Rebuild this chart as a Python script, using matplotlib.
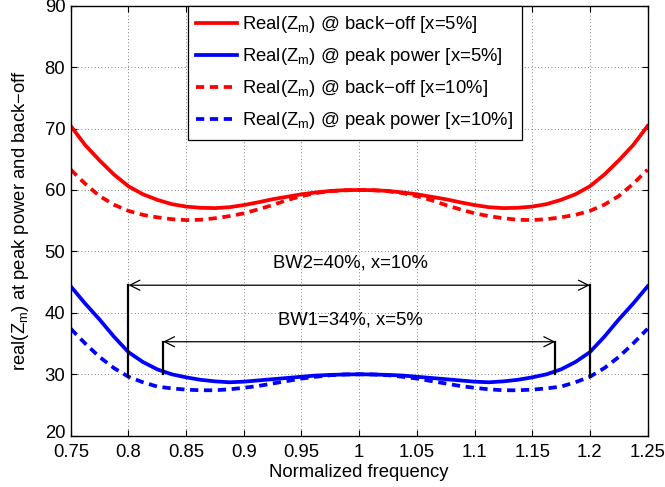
import numpy as np
import matplotlib
matplotlib.use("Agg")
import matplotlib.pyplot as plt
import matplotlib.transforms as mtransforms

plt.rcParams['font.family'] = ['Liberation Sans', 'DejaVu Sans']
plt.rcParams['mathtext.default'] = 'regular'

# Normalized frequency grid (0.75 .. 1.25, step 0.0125)
freq = [0.75, 0.7625, 0.775, 0.7875, 0.80, 0.8125, 0.825, 0.8375, 0.85, 0.8625,
        0.875, 0.8875, 0.90, 0.9125, 0.925, 0.9375, 0.95, 0.9625, 0.975, 0.9875,
        1.00, 1.0125, 1.025, 1.0375, 1.05, 1.0625, 1.075, 1.0875, 1.10, 1.1125,
        1.125, 1.1375, 1.15, 1.1625, 1.175, 1.1875, 1.20, 1.2125, 1.225, 1.2375,
        1.25]

# Real(Zm) at back-off, x = 5 %
backoff_x5 = [70.4, 67.3, 64.8, 62.5, 60.6, 59.3, 58.4, 57.7, 57.3, 57.1,
              57.05, 57.2, 57.55, 58.0, 58.5, 58.9, 59.3, 59.6, 59.85, 59.97,
              60.0, 59.97, 59.85, 59.6, 59.3, 58.9, 58.5, 58.0, 57.55, 57.2,
              57.05, 57.1, 57.3, 57.7, 58.4, 59.3, 60.6, 62.5, 64.8, 67.3,
              70.4]
# Real(Zm) at peak power, x = 5 %
peak_x5 = [44.3, 41.5, 38.9, 36.1, 33.6, 32.0, 30.8, 30.0, 29.5, 29.1,
           28.85, 28.7, 28.8, 29.0, 29.2, 29.4, 29.6, 29.8, 29.9, 29.97,
           30.0, 29.97, 29.9, 29.8, 29.6, 29.4, 29.2, 29.0, 28.8, 28.7,
           28.85, 29.1, 29.5, 30.0, 30.8, 32.0, 33.6, 36.1, 38.9, 41.5,
           44.3]
# Real(Zm) at back-off, x = 10 %
backoff_x10 = [63.3, 61.0, 59.0, 57.6, 56.6, 55.95, 55.55, 55.25, 55.1, 55.15,
               55.4, 55.75, 56.2, 56.85, 57.55, 58.35, 59.0, 59.5, 59.8, 59.95,
               60.0, 59.95, 59.8, 59.5, 59.0, 58.35, 57.55, 56.85, 56.2, 55.75,
               55.4, 55.15, 55.1, 55.25, 55.55, 55.95, 56.6, 57.6, 59.0, 61.0,
               63.3]
# Real(Zm) at peak power, x = 10 %
peak_x10 = [37.4, 35.0, 32.8, 31.0, 29.6, 28.7, 28.0, 27.7, 27.5, 27.4,
            27.4, 27.55, 27.8, 28.1, 28.5, 28.9, 29.3, 29.6, 29.85, 29.97,
            30.0, 29.97, 29.85, 29.6, 29.3, 28.9, 28.5, 28.1, 27.8, 27.55,
            27.4, 27.4, 27.5, 27.7, 28.0, 28.7, 29.6, 31.0, 32.8, 35.0,
            37.4]

# Bandwidth markers: (f_low, f_high, base level, arrow level, label)
bw2 = (0.80, 1.20, 29.6, 44.5, "BW2=40%, x=10%")
bw1 = (0.83, 1.17, 30.0, 35.3, "BW1=34%, x=5%")

xticks = [0.75, 0.8, 0.85, 0.9, 0.95, 1.0, 1.05, 1.1, 1.15, 1.2, 1.25]
xtick_labels = ["0.75", "0.8", "0.85", "0.9", "0.95", "1", "1.05", "1.1", "1.15", "1.2", "1.25"]
yticks = [20, 30, 40, 50, 60, 70, 80, 90]

FS = 13.3

fig = plt.figure(figsize=(6.65, 4.87), dpi=100)
ax = fig.add_axes([0.1065, 0.1053, 0.8672, 0.883])

lw = 2.7
dash = (2.2, 1.5)
ax.plot(freq, backoff_x5, color='#ff0000', lw=lw,
        label=r"Real(Z$_m$) @ back−off [x=5%]")
ax.plot(freq, peak_x5, color='#0000ff', lw=lw,
        label=r"Real(Z$_m$) @ peak power [x=5%]")
ax.plot(freq, backoff_x10, color='#ff0000', lw=lw, dashes=dash,
        label=r"Real(Z$_m$) @ back−off [x=10%]")
ax.plot(freq, peak_x10, color='#0000ff', lw=lw, dashes=dash,
        label=r"Real(Z$_m$) @ peak power [x=10%]")

for f_lo, f_hi, base, lvl, txt in (bw2, bw1):
    ax.plot([f_lo, f_lo], [base, lvl], color='k', lw=1.6)
    ax.plot([f_hi, f_hi], [base, lvl], color='k', lw=1.6)
    ax.annotate('', xy=(f_lo, lvl), xytext=(f_hi, lvl),
                arrowprops=dict(arrowstyle='<->', color='k', lw=0.9,
                                mutation_scale=18, shrinkA=0, shrinkB=0))
    ax.text((f_lo + f_hi) / 2 - 0.008, lvl + 3.6, txt, ha='center', va='center',
            fontsize=FS)

ax.set_xlim(0.75, 1.25)
ax.set_ylim(20, 90)
ax.set_xticks(xticks)
ax.set_xticklabels(xtick_labels)
ax.set_yticks(yticks)
ax.tick_params(direction='in', top=True, right=True, length=4, width=0.8,
               labelsize=FS)
ax.tick_params(axis='x', pad=6)
ax.tick_params(axis='y', pad=4)
ax.grid(True, linestyle=(0, (1, 3)), color='#555555', lw=0.6)
for s in ax.spines.values():
    s.set_linewidth(1.0)

# lift the bottom y label a touch so it clears the first x label
lbl = ax.get_yticklabels()[0]
lbl.set_transform(lbl.get_transform() +
                  mtransforms.ScaledTranslation(0, 3 / 72, fig.dpi_scale_trans))

ax.set_xlabel("Normalized frequency", fontsize=FS, labelpad=2)
ax.set_ylabel(r"real(Z$_m$) at peak power and back−off", fontsize=FS, labelpad=10)

leg = ax.legend(loc='upper left', bbox_to_anchor=(0.203, 1.0), fontsize=FS,
                frameon=True, fancybox=False, edgecolor='k', framealpha=1,
                handlelength=2.2, handletextpad=0.3, borderpad=0.45,
                labelspacing=0.6, borderaxespad=0)
leg.get_frame().set_linewidth(0.9)

fig.savefig("out.png", dpi=100)
